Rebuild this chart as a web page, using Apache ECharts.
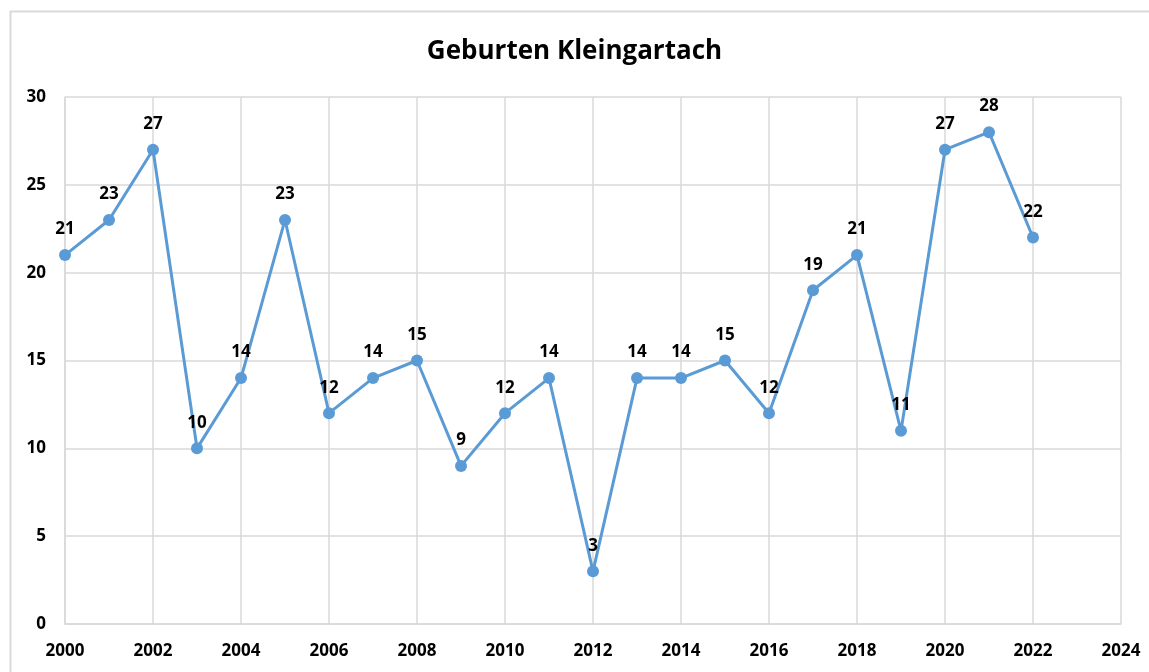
<!DOCTYPE html>
<html><head><meta charset="utf-8">
<script src="https://cdn.jsdelivr.net/npm/echarts@6/dist/echarts.min.js"></script>
<style>html,body{margin:0;padding:0;background:#fff}#c{width:1149px;height:672px}</style>
</head><body><div id="c"></div>
<script>
const years = [2000,2001,2002,2003,2004,2005,2006,2007,2008,2009,2010,2011,2012,2013,2014,2015,2016,2017,2018,2019,2020,2021,2022];
const births = [21,23,27,10,14,23,12,14,15,9,12,14,3,14,14,15,12,19,21,11,27,28,22];
const title = 'Geburten Kleingartach';
const font = '"Open Sans", sans-serif';
const chart = echarts.init(document.getElementById('c'));
chart.setOption({
  animation:false,
  backgroundColor:'#fff',
  graphic:[{type:'rect',shape:{x:10.5,y:11.5,width:1160,height:680},style:{fill:'none',stroke:'#d9d9d9',lineWidth:2}}],
  title:{text:title,left:'center',top:34,textStyle:{fontFamily:font,fontWeight:'bold',fontSize:26,color:'#000'}},
  grid:{left:65,top:97,right:28,bottom:48},
  xAxis:{type:'value',min:2000,max:2024,interval:2,
    axisLine:{show:true,lineStyle:{color:'#d9d9d9',width:1.5}},axisTick:{show:false},
    splitLine:{show:true,lineStyle:{color:'#d9d9d9',width:1.5}},
    axisLabel:{color:'#000',fontFamily:font,fontWeight:'bold',fontSize:17,margin:19,formatter:v=>String(v)}},
  yAxis:{type:'value',min:0,max:30,interval:5,
    axisLine:{show:true,lineStyle:{color:'#d9d9d9',width:1.5}},axisTick:{show:false},
    splitLine:{show:true,lineStyle:{color:'#d9d9d9',width:1.5}},
    axisLabel:{color:'#000',fontFamily:font,fontWeight:'bold',fontSize:17,margin:19}},
  series:[{type:'line',data:years.map((y,i)=>[y,births[i]]),
    symbol:'circle',symbolSize:12,
    lineStyle:{color:'#5b9bd5',width:3},itemStyle:{color:'#5b9bd5'},
    label:{show:true,position:'top',distance:11,color:'#000',fontFamily:font,fontWeight:'bold',fontSize:17}}]
});
</script></body></html>
